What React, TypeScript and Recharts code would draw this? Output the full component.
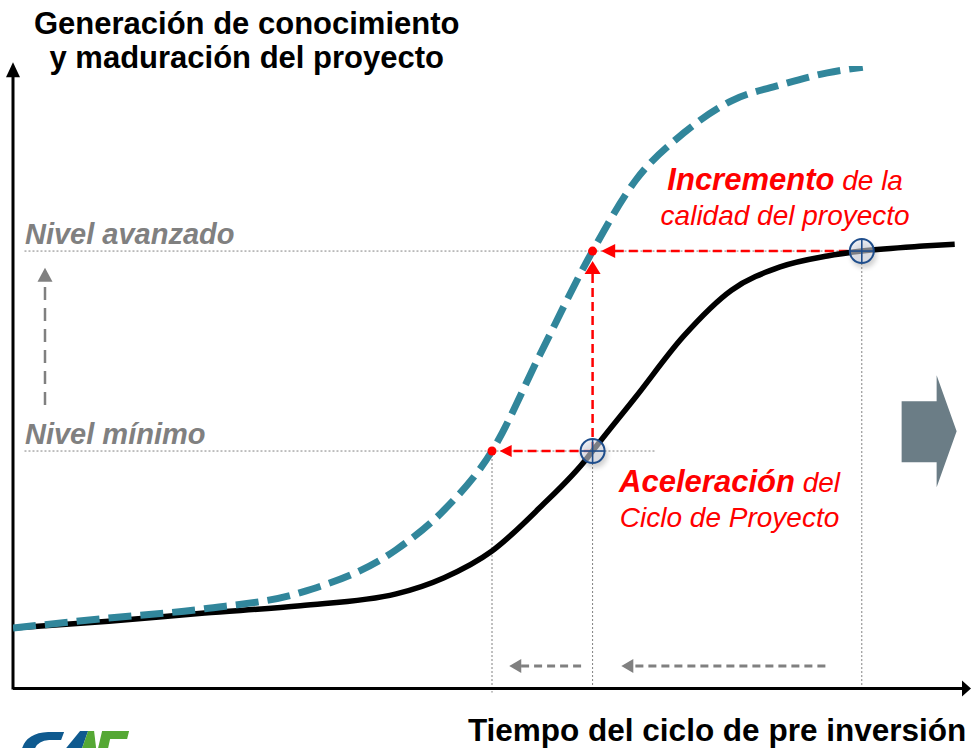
import React from 'react';
import { ComposedChart, Line, XAxis, YAxis, ReferenceLine, ReferenceDot } from 'recharts';

// ---- data (x: time of pre-investment cycle, y: knowledge / maturity, arbitrary 0-100 units)
const currentX = [0, 10, 20, 30, 40, 45, 50, 55, 60, 60.5, 65, 70, 75, 80, 85, 88.6, 95, 98.3];
const currentY = [9.5, 10.6, 11.9, 13.1, 15.0, 17.6, 21.9, 28.9, 37.0, 38.0, 46.7, 56.5, 63.9, 67.6, 69.4, 70.2, 71.0, 71.3];
const improvedX = [0, 10, 20, 30, 40, 45, 50, 55, 60, 60.5, 65, 70, 75, 80, 85, 88.7];
const improvedY = [9.5, 11.1, 12.6, 15.2, 22.1, 28.5, 38.0, 53.5, 68.8, 70.2, 81.6, 89.2, 94.4, 96.9, 98.9, 99.8];

const levelMin = 38.0;
const levelAdv = 70.2;
const xImprovedAtMin = 50;
const xCurrentAtMin = 60.5;
const xCurrentAtAdv = 88.6;

const titleLines = ['Generación de conocimiento', 'y maduración del proyecto'];
const xTitle = 'Tiempo del ciclo de pre inversión';
const levelLabels = ['Nivel avanzado', 'Nivel mínimo'];

const currentData = currentX.map((x, i) => ({ x, y: currentY[i] }));
const improvedData = improvedX.map((x, i) => ({ x, y: improvedY[i] }));

const FONT = '"Liberation Sans", Arial, Helvetica, sans-serif';
const RED = '#FF0000';
const GREY = '#808080';
const TEAL = '#31869B';
const NAVY = '#1F4E8C';

type Dir = 'left' | 'right' | 'up';
const tri = (dir: Dir, len: number, half: number, fill: string) => (p: any) => {
  const { cx, cy } = p;
  let pts = '';
  if (dir === 'left') pts = `${cx},${cy} ${cx + len},${cy - half} ${cx + len},${cy + half}`;
  if (dir === 'right') pts = `${cx},${cy} ${cx - len},${cy - half} ${cx - len},${cy + half}`;
  if (dir === 'up') pts = `${cx},${cy} ${cx - half},${cy + len} ${cx + half},${cy + len}`;
  return <polygon points={pts} fill={fill} />;
};

type Part = { t: string; bold?: boolean; size: number };
const textShape = (parts: Part[], anchor: 'start' | 'middle' | 'end', fill: string, italic: boolean) => (p: any) => (
  <text x={p.cx} y={p.cy} textAnchor={anchor} fill={fill} fontFamily={FONT} fontStyle={italic ? 'italic' : 'normal'}>
    {parts.map((pt, i) => (
      <tspan key={i} fontWeight={pt.bold ? 'bold' : 'normal'} fontSize={pt.size}>
        {pt.t}
      </tspan>
    ))}
  </text>
);

const targetShape = (p: any) => {
  const { cx, cy } = p;
  const id = `blur${Math.round(cx)}`;
  return (
    <g>
      <defs>
        <filter id={id} x="-50%" y="-50%" width="200%" height="200%">
          <feGaussianBlur stdDeviation="2.5" />
        </filter>
      </defs>
      <circle cx={cx + 2} cy={cy + 4} r={13} fill="#000" opacity={0.18} filter={`url(#${id})`} />
      <circle cx={cx} cy={cy} r={12} fill="rgba(225,230,240,0.55)" stroke={NAVY} strokeWidth={2} />
      <line x1={cx - 12} x2={cx + 12} y1={cy} y2={cy} stroke={NAVY} strokeWidth={1.6} />
      <line x1={cx} x2={cx} y1={cy - 12} y2={cy + 12} stroke={NAVY} strokeWidth={1.6} />
    </g>
  );
};

const bigArrowShape = (p: any) => {
  const { cx, cy } = p;
  const pts = [
    [cx - 55, cy - 30],
    [cx - 20, cy - 30],
    [cx - 20, cy - 56],
    [cx, cy],
    [cx - 20, cy + 56],
    [cx - 20, cy + 31],
    [cx - 55, cy + 31],
  ]
    .map((q) => q.join(','))
    .join(' ');
  return <polygon points={pts} fill="#6B7D86" />;
};

// CAF logo (only its upper part is visible at the bottom edge)
const logoShape = (p: any) => {
  const { cx, cy } = p; // top-left of logo
  return (
    <g>
      <path
        d={`M${cx},${cy + 17} Q${cx + 5},${cy + 2} ${cx + 26},${cy + 1} L${cx + 42},${cy + 1} L${cx + 39},${cy + 9} L${cx + 27},${cy + 9} Q${cx + 16},${cy + 10} ${cx + 13},${cy + 17} Z`}
        fill="#0F5A8F"
      />
      <path d={`M${cx + 44},${cy + 17} L${cx + 58},${cy} L${cx + 66},${cy} L${cx + 60},${cy + 17} Z`} fill="#0F5A8F" />
      <path d={`M${cx + 60},${cy + 17} L${cx + 66},${cy} L${cx + 72},${cy} L${cx + 74},${cy + 17} Z`} fill="#55A834" />
      <path d={`M${cx + 76},${cy + 17} L${cx + 80},${cy} L${cx + 107},${cy} L${cx + 105},${cy + 8} L${cx + 88},${cy + 8} L${cx + 86},${cy + 17} Z`} fill="#55A834" />
    </g>
  );
};

const dotted = { stroke: GREY, strokeWidth: 1, strokeDasharray: '2 2' };
const redDash = { stroke: RED, strokeWidth: 2.5, strokeDasharray: '9 5' };
const greyDash = { stroke: GREY, strokeWidth: 3, strokeDasharray: '8 5' };

export default function App() {
  return (
    <div style={{ position: 'absolute', left: 0, top: 0, width: 971, height: 748, background: '#fff' }}>
      <ComposedChart width={971} height={748} margin={{ top: 66, right: 0, bottom: 61, left: 13 }}>
        <XAxis type="number" dataKey="x" domain={[0, 100]} hide allowDataOverflow />
        <YAxis type="number" dataKey="y" domain={[0, 100]} hide allowDataOverflow />

        {/* dotted guide lines */}
        <ReferenceLine ifOverflow="visible" segment={[{ x: 1.2, y: levelAdv }, { x: xCurrentAtAdv, y: levelAdv }]} {...dotted} />
        <ReferenceLine ifOverflow="visible" segment={[{ x: 1.2, y: levelMin }, { x: 67, y: levelMin }]} {...dotted} />
        <ReferenceLine ifOverflow="visible" segment={[{ x: xImprovedAtMin, y: levelMin }, { x: xImprovedAtMin, y: -0.9 }]} {...dotted} />
        <ReferenceLine ifOverflow="visible" segment={[{ x: xCurrentAtMin, y: levelMin }, { x: xCurrentAtMin, y: 0 }]} {...dotted} />
        <ReferenceLine ifOverflow="visible" segment={[{ x: xCurrentAtAdv, y: levelAdv }, { x: xCurrentAtAdv, y: 0 }]} {...dotted} />

        {/* red dashed arrows */}
        <ReferenceLine ifOverflow="visible" segment={[{ x: xCurrentAtAdv, y: levelAdv }, { x: 62.8, y: levelAdv }]} {...redDash} />
        <ReferenceLine ifOverflow="visible" segment={[{ x: xCurrentAtMin, y: levelMin }, { x: xCurrentAtMin, y: 66.7 }]} {...redDash} />
        <ReferenceLine ifOverflow="visible" segment={[{ x: xCurrentAtMin, y: levelMin }, { x: 52.1, y: levelMin }]} {...redDash} />

        {/* grey dashed arrows */}
        <ReferenceLine ifOverflow="visible" segment={[{ x: 3.34, y: 45.4 }, { x: 3.34, y: 65.2 }]} stroke={GREY} strokeWidth={2.5} strokeDasharray="13 8" />
        <ReferenceLine ifOverflow="visible" segment={[{ x: 59.3, y: 3.4 }, { x: 53.0, y: 3.4 }]} {...greyDash} />
        <ReferenceLine ifOverflow="visible" segment={[{ x: 84.8, y: 3.4 }, { x: 64.8, y: 3.4 }]} {...greyDash} />

        {/* axes */}
        <ReferenceLine ifOverflow="visible" segment={[{ x: 0, y: -0.25 }, { x: 99.1, y: -0.25 }]} stroke="#000" strokeWidth={3} />
        <ReferenceLine ifOverflow="visible" segment={[{ x: 0, y: -0.4 }, { x: 0, y: 98.5 }]} stroke="#000" strokeWidth={3} />

        <Line data={currentData} dataKey="y" type="monotone" stroke="#000" strokeWidth={5.5} dot={false} activeDot={false} isAnimationActive={false} />
        <Line data={improvedData} dataKey="y" type="monotone" stroke={TEAL} strokeWidth={7} strokeDasharray="23 9" dot={false} activeDot={false} isAnimationActive={false} />

        {/* arrow heads */}
        <ReferenceDot ifOverflow="visible" x={100} y={-0.25} shape={tri('right', 9, 8, '#000')} />
        <ReferenceDot ifOverflow="visible" x={0} y={100.6} shape={tri('up', 15, 7, '#000')} />
        <ReferenceDot ifOverflow="visible" x={61.4} y={levelAdv} shape={tri('left', 14, 7, RED)} />
        <ReferenceDot ifOverflow="visible" x={xCurrentAtMin} y={68.6} shape={tri('up', 13, 8, RED)} />
        <ReferenceDot ifOverflow="visible" x={50.8} y={levelMin} shape={tri('left', 12, 6, RED)} />
        <ReferenceDot ifOverflow="visible" x={3.34} y={67.5} shape={tri('up', 14, 7.5, GREY)} />
        <ReferenceDot ifOverflow="visible" x={51.8} y={3.4} shape={tri('left', 12, 7, GREY)} />
        <ReferenceDot ifOverflow="visible" x={63.5} y={3.4} shape={tri('left', 12, 7, GREY)} />

        {/* red dots and targets */}
        <ReferenceDot ifOverflow="visible" x={xImprovedAtMin} y={levelMin} r={4.5} fill={RED} stroke="none" />
        <ReferenceDot ifOverflow="visible" x={xCurrentAtMin} y={levelAdv} r={4.5} fill={RED} stroke="none" />
        <ReferenceDot ifOverflow="visible" x={xCurrentAtMin} y={levelMin} shape={targetShape} />
        <ReferenceDot ifOverflow="visible" x={xCurrentAtAdv} y={levelAdv} shape={targetShape} />

        {/* big grey arrow */}
        <ReferenceDot ifOverflow="visible" x={98.5} y={41.2} shape={bigArrowShape} />

        {/* texts */}
        <ReferenceDot ifOverflow="visible" x={24.4} y={105.1} shape={textShape([{ t: titleLines[0], bold: true, size: 31 }], 'middle', '#000', false)} />
        <ReferenceDot ifOverflow="visible" x={24.4} y={99.6} shape={textShape([{ t: titleLines[1], bold: true, size: 31 }], 'middle', '#000', false)} />
        <ReferenceDot ifOverflow="visible" x={99.5} y={-8.7} shape={textShape([{ t: xTitle, bold: true, size: 31.5 }], 'end', '#000', false)} />
        <ReferenceDot ifOverflow="visible" x={1.25} y={71.3} shape={textShape([{ t: levelLabels[0], bold: true, size: 29 }], 'start', GREY, true)} />
        <ReferenceDot ifOverflow="visible" x={1.25} y={39.1} shape={textShape([{ t: levelLabels[1], bold: true, size: 29 }], 'start', GREY, true)} />
        <ReferenceDot ifOverflow="visible" x={80.6} y={80.0} shape={textShape([{ t: 'Incremento', bold: true, size: 31 }, { t: ' de la', size: 28 }], 'middle', RED, true)} />
        <ReferenceDot ifOverflow="visible" x={80.6} y={74.4} shape={textShape([{ t: 'calidad del proyecto', size: 28 }], 'middle', RED, true)} />
        <ReferenceDot ifOverflow="visible" x={74.8} y={31.4} shape={textShape([{ t: 'Aceleración', bold: true, size: 31 }, { t: ' del', size: 28 }], 'middle', RED, true)} />
        <ReferenceDot ifOverflow="visible" x={74.8} y={25.8} shape={textShape([{ t: 'Ciclo de Proyecto', size: 28 }], 'middle', RED, true)} />
        <ReferenceDot ifOverflow="visible" x={0.95} y={-7.1} shape={logoShape} />
      </ComposedChart>
    </div>
  );
}
